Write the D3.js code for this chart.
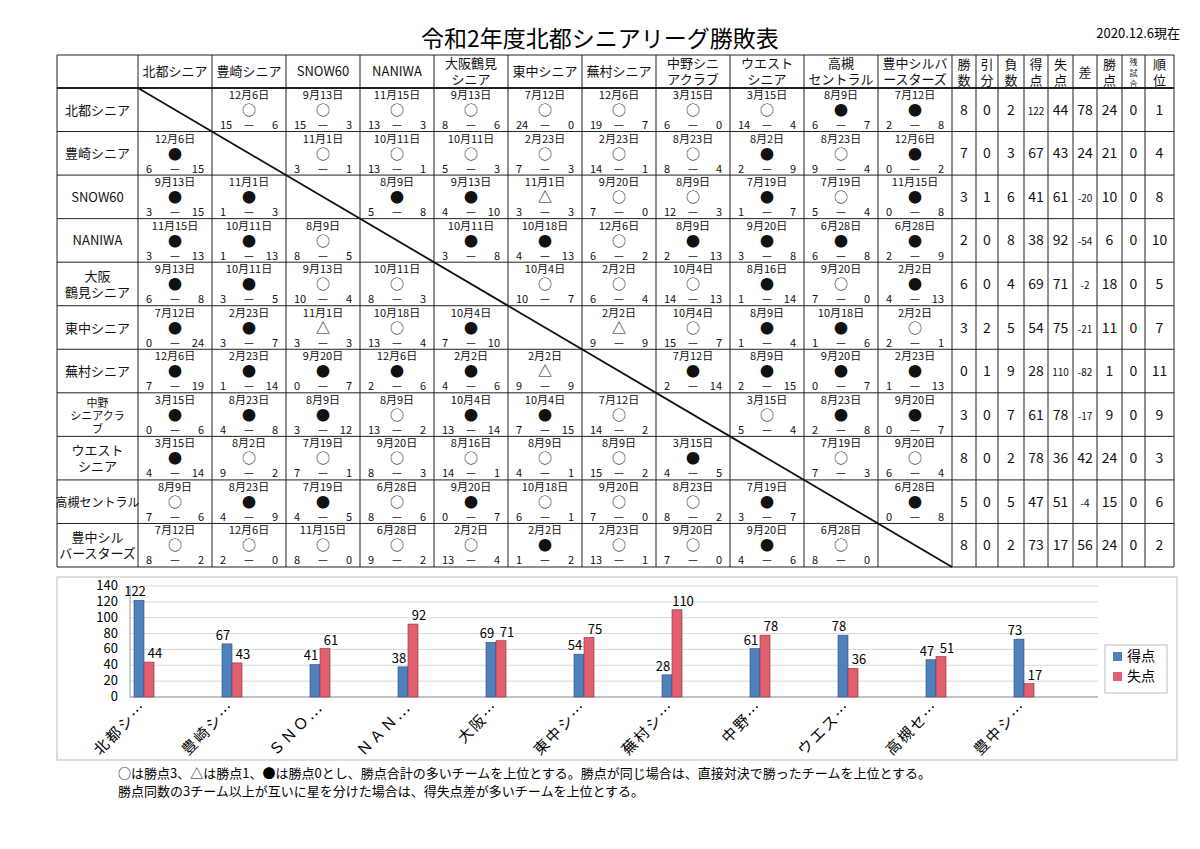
<!DOCTYPE html>
<html><head><meta charset="utf-8">
<script src="https://cdn.jsdelivr.net/npm/d3@7"></script>
<style>body{margin:0;background:#fff}</style>
</head><body>
<script>
// teams and header labels
var teams = ["北都シニア","豊崎シニア","SNOW60","NANIWA","大阪鶴見シニア","東中シニア","蕪村シニア","中野シニアクラブ","ウエストシニア","高槻セントラル","豊中シルバースターズ"];
var colHeads = [["北都シニア"],["豊崎シニア"],["SNOW60"],["NANIWA"],["大阪鶴見","シニア"],["東中シニア"],["蕪村シニア"],["中野シニ","アクラブ"],["ウエスト","シニア"],["高槻","セントラル"],["豊中シルバ","ースターズ"]];
var rowHeads = [["北都シニア"],["豊崎シニア"],["SNOW60"],["NANIWA"],["大阪","鶴見シニア"],["東中シニア"],["蕪村シニア"],["中野","シニアクラ","ブ"],["ウエスト","シニア"],["高槻セントラル"],["豊中シル","バースターズ"]];
var statHeads = [["勝","数"],["引","分"],["負","数"],["得","点"],["失","点"],["差"],["勝","点"],["残","試","合"],["順","位"]];

// match results: "month/day mark score-score"
var results = [
 [null,"12/6 ○ 15-6","9/13 ○ 15-3","11/15 ○ 13-3","9/13 ○ 8-6","7/12 ○ 24-0","12/6 ○ 19-7","3/15 ○ 6-0","3/15 ○ 14-4","8/9 ● 6-7","7/12 ● 2-8"],
 ["12/6 ● 6-15",null,"11/1 ○ 3-1","10/11 ○ 13-1","10/11 ○ 5-3","2/23 ○ 7-3","2/23 ○ 14-1","8/23 ○ 8-4","8/2 ● 2-9","8/23 ○ 9-4","12/6 ● 0-2"],
 ["9/13 ● 3-15","11/1 ● 1-3",null,"8/9 ● 5-8","9/13 ● 4-10","11/1 △ 3-3","9/20 ○ 7-0","8/9 ○ 12-3","7/19 ● 1-7","7/19 ○ 5-4","11/15 ● 0-8"],
 ["11/15 ● 3-13","10/11 ● 1-13","8/9 ○ 8-5",null,"10/11 ● 3-8","10/18 ● 4-13","12/6 ○ 6-2","8/9 ● 2-13","9/20 ● 3-8","6/28 ● 6-8","6/28 ● 2-9"],
 ["9/13 ● 6-8","10/11 ● 3-5","9/13 ○ 10-4","10/11 ○ 8-3",null,"10/4 ○ 10-7","2/2 ○ 6-4","10/4 ○ 14-13","8/16 ● 1-14","9/20 ○ 7-0","2/2 ● 4-13"],
 ["7/12 ● 0-24","2/23 ● 3-7","11/1 △ 3-3","10/18 ○ 13-4","10/4 ● 7-10",null,"2/2 △ 9-9","10/4 ○ 15-7","8/9 ● 1-4","10/18 ● 1-6","2/2 ○ 2-1"],
 ["12/6 ● 7-19","2/23 ● 1-14","9/20 ● 0-7","12/6 ● 2-6","2/2 ● 4-6","2/2 △ 9-9",null,"7/12 ● 2-14","8/9 ● 2-15","9/20 ● 0-7","2/23 ● 1-13"],
 ["3/15 ● 0-6","8/23 ● 4-8","8/9 ● 3-12","8/9 ○ 13-2","10/4 ● 13-14","10/4 ● 7-15","7/12 ○ 14-2",null,"3/15 ○ 5-4","8/23 ● 2-8","9/20 ● 0-7"],
 ["3/15 ● 4-14","8/2 ○ 9-2","7/19 ○ 7-1","9/20 ○ 8-3","8/16 ○ 14-1","8/9 ○ 4-1","8/9 ○ 15-2","3/15 ● 4-5",null,"7/19 ○ 7-3","9/20 ○ 6-4"],
 ["8/9 ○ 7-6","8/23 ● 4-9","7/19 ● 4-5","6/28 ○ 8-6","9/20 ● 0-7","10/18 ○ 6-1","9/20 ○ 7-0","8/23 ○ 8-2","7/19 ● 3-7",null,"6/28 ● 0-8"],
 ["7/12 ○ 8-2","12/6 ○ 2-0","11/15 ○ 8-0","6/28 ○ 9-2","2/2 ○ 13-4","2/2 ● 1-2","2/23 ○ 13-1","9/20 ○ 7-0","9/20 ● 4-6","6/28 ○ 8-0",null]
];

// standings columns
var wins   = [8,7,3,2,6,3,0,3,8,5,8];
var draws  = [0,0,1,0,0,2,1,0,0,0,0];
var losses = [2,3,6,8,4,5,9,7,2,5,2];
var scored = [122,67,41,38,69,54,28,61,78,47,73];
var conceded = [44,43,61,92,71,75,110,78,36,51,17];
var diff   = [78,24,-20,-54,-2,-21,-82,-17,42,-4,56];
var points = [24,21,10,6,18,11,1,9,24,15,24];
var remain = [0,0,0,0,0,0,0,0,0,0,0];
var rank   = [1,4,8,10,5,7,11,9,3,6,2];

// chart
var chartCats = ["北都シ…","豊崎シ…","ＳＮＯ…","ＮＡＮ…","大阪…","東中シ…","蕪村シ…","中野…","ウエス…","高槻セ…","豊中シ…"];
var yTicks = [0,20,40,60,80,100,120,140];

var W = 1200, H = 849;
var svg = d3.select("body").append("svg").attr("width", W).attr("height", H);
var serif = "'Noto Sans CJK JP','DejaVu Serif',serif";

svg.append("text").attr("x", 600).attr("y", 47).attr("text-anchor", "middle")
  .style("font-family", serif).style("font-size", "23px").text("令和2年度北都シニアリーグ勝敗表");
svg.append("text").attr("x", 1180).attr("y", 38).attr("text-anchor", "end")
  .style("font-family", serif).style("font-size", "13px").text("2020.12.6現在");

// table geometry
var tLeft = 57, nameW = 81, tTop = 55, headBottom = 88, tBottom = 567;
var xCol = d3.scaleBand().domain(d3.range(11)).range([tLeft + nameW, 952]);
var statEdges = [952,976,998,1024,1048,1073,1097,1122,1145,1174];
var yRow = d3.scaleBand().domain(d3.range(11)).range([headBottom, tBottom]);

var g = svg.append("g").style("font-family", serif).attr("fill", "#111");

// grid
var vx = [tLeft].concat(d3.range(11).map(function(i){ return xCol(i); })).concat(statEdges);
vx.forEach(function(x){
  g.append("line").attr("x1", x).attr("x2", x).attr("y1", tTop).attr("y2", tBottom)
    .attr("stroke", "#222").attr("stroke-width", 1);
});
[tTop, headBottom].concat(d3.range(11).map(function(i){ return yRow(i) + yRow.bandwidth(); })).forEach(function(y){
  g.append("line").attr("x1", tLeft).attr("x2", 1174).attr("y1", y).attr("y2", y)
    .attr("stroke", "#222").attr("stroke-width", y == headBottom ? 2 : 1);
});
g.append("line").attr("x1", xCol(0)).attr("y1", headBottom).attr("x2", 952).attr("y2", tBottom)
  .attr("stroke", "#111").attr("stroke-width", 1.8);

// column headers
colHeads.forEach(function(lines, i){
  var cx = xCol(i) + xCol.bandwidth() / 2;
  var y0 = lines.length == 1 ? 76 : 68;
  lines.forEach(function(s, k){
    g.append("text").attr("x", cx).attr("y", y0 + k * 16).attr("text-anchor", "middle")
      .style("font-size", "13px").text(s);
  });
});
statHeads.forEach(function(lines, i){
  var cx = (statEdges[i] + statEdges[i+1]) / 2;
  var fs = lines.length == 3 ? 8 : 13;
  var y0 = lines.length == 1 ? 77 : (lines.length == 3 ? 65 : 69);
  lines.forEach(function(s, k){
    g.append("text").attr("x", cx).attr("y", y0 + k * (fs + 3)).attr("text-anchor", "middle")
      .style("font-size", fs + "px").text(s);
  });
});

// row headers
rowHeads.forEach(function(lines, i){
  var cy = yRow(i) + yRow.bandwidth() / 2;
  var n = lines.length, lh = n == 3 ? 13 : 16;
  lines.forEach(function(s, k){
    g.append("text").attr("x", tLeft + nameW / 2).attr("y", cy + (k - (n - 1) / 2) * lh + 5)
      .attr("text-anchor", "middle").style("font-size", n == 3 ? "11px" : (s.length > 6 ? "12px" : "13px")).text(s);
  });
});

// match cells
results.forEach(function(row, i){
  row.forEach(function(r, j){
    if (!r) return;
    var p = r.split(" "), md = p[0].split("/"), sc = p[2].split("-");
    var x0 = xCol(j), w = xCol.bandwidth(), y0 = yRow(i), cx = x0 + w / 2;
    g.append("text").attr("x", cx).attr("y", y0 + 11).attr("text-anchor", "middle")
      .style("font-size", "11px").text(md[0] + "月" + md[1] + "日");
    g.append("text").attr("x", cx).attr("y", y0 + 27).attr("text-anchor", "middle")
      .style("font-size", "14px").text(p[1]);
    g.append("text").attr("x", x0 + 8).attr("y", y0 + 41).style("font-size", "11px").text(sc[0]);
    g.append("text").attr("x", cx).attr("y", y0 + 41).attr("text-anchor", "middle").style("font-size", "11px").text("—");
    g.append("text").attr("x", x0 + w - 8).attr("y", y0 + 41).attr("text-anchor", "end").style("font-size", "11px").text(sc[1]);
  });
});

// standings
[wins, draws, losses, scored, conceded, diff, points, remain, rank].forEach(function(col, c){
  var cx = (statEdges[c] + statEdges[c+1]) / 2;
  col.forEach(function(v, i){
    var s = String(v);
    var fs = (c == 5 && v < 0) || s.length > 2 ? 10 : 14;
    g.append("text").attr("x", cx).attr("y", yRow(i) + yRow.bandwidth() / 2 + 5)
      .attr("text-anchor", "middle").style("font-size", fs + "px").text(s);
  });
});

// bar chart
var cg = svg.append("g").style("font-family", "'Noto Sans CJK JP',sans-serif");
cg.append("rect").attr("x", 57).attr("y", 577).attr("width", 1120).attr("height", 183)
  .attr("fill", "none").attr("stroke", "#bbb");
var x = d3.scaleBand().domain(chartCats).range([130, 1098]);
var y = d3.scaleLinear().domain([0, 140]).range([697, 586]);
yTicks.forEach(function(t){
  cg.append("line").attr("x1", 130).attr("x2", 1098).attr("y1", y(t)).attr("y2", y(t))
    .attr("stroke", "#d8d8d8");
  cg.append("text").attr("x", 118).attr("y", y(t) + 4).attr("text-anchor", "end")
    .style("font-size", "13px").text(t);
});
cg.append("line").attr("x1", 130).attr("x2", 130).attr("y1", 586).attr("y2", 697).attr("stroke", "#999");
cg.append("line").attr("x1", 130).attr("x2", 1098).attr("y1", 697).attr("y2", 697).attr("stroke", "#999");
var bw = 10;
chartCats.forEach(function(c, i){
  var bx = x(c) + 4;
  [[scored[i], "#4f81bd", "#2a4f80"], [conceded[i], "#e0606f", "#8a2a35"]].forEach(function(d, k){
    cg.append("rect").attr("x", bx + k * bw).attr("y", y(d[0])).attr("width", bw)
      .attr("height", 697 - y(d[0])).attr("fill", d[1]).attr("stroke", d[2]).attr("stroke-width", 0.6);
    cg.append("text").attr("x", bx + k * bw + bw / 2 + (k ? 6 : -4)).attr("y", y(d[0]) - 4)
      .attr("text-anchor", "middle").style("font-size", "13px").text(d[0]);
  });
  cg.append("text").attr("transform", "translate(" + (bx + 14) + ",708) rotate(-45)")
    .attr("text-anchor", "end").style("font-size", "15px").style("letter-spacing", "2px").text(c);
});
// legend
var leg = cg.append("g").attr("transform", "translate(1105,645)");
leg.append("rect").attr("width", 62).attr("height", 48).attr("fill", "#fff").attr("stroke", "#bbb");
[["得点", "#4f81bd"], ["失点", "#e0606f"]].forEach(function(d, k){
  leg.append("rect").attr("x", 8).attr("y", 7 + k * 20).attr("width", 9).attr("height", 9).attr("fill", d[1]);
  leg.append("text").attr("x", 22).attr("y", 16 + k * 20).style("font-size", "14px").text(d[0]);
});

// notes
svg.append("text").attr("x", 118).attr("y", 778).style("font-family", "'Noto Sans CJK JP',sans-serif")
  .style("font-size", "13px").text("○は勝点3、△は勝点1、●は勝点0とし、勝点合計の多いチームを上位とする。勝点が同じ場合は、直接対決で勝ったチームを上位とする。");
svg.append("text").attr("x", 118).attr("y", 796).style("font-family", "'Noto Sans CJK JP',sans-serif")
  .style("font-size", "13px").text("勝点同数の3チーム以上が互いに星を分けた場合は、得失点差が多いチームを上位とする。");
</script>
</body></html>
